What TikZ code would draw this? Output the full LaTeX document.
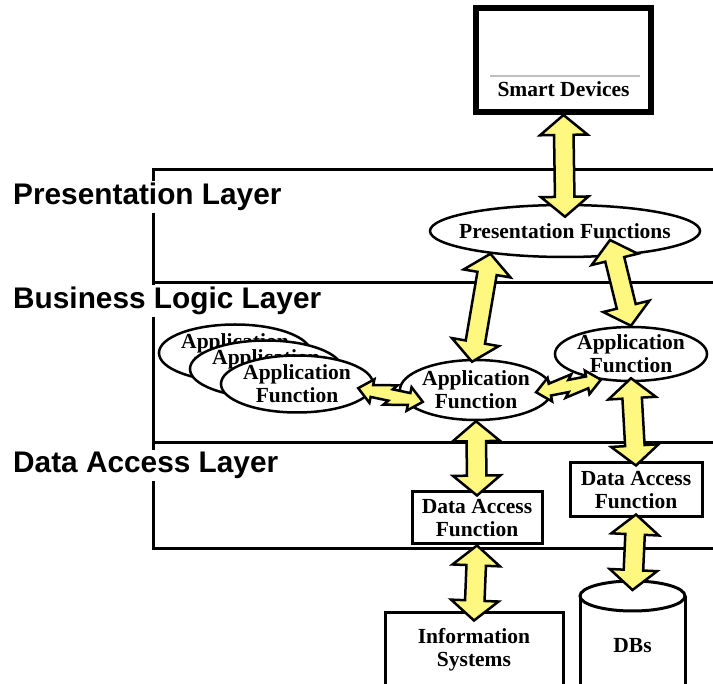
\documentclass[tikz,border=0pt]{standalone}
\usepackage{fontspec}
\setmainfont{Liberation Serif}
\newfontfamily\layerfont{Liberation Sans}
\usetikzlibrary{calc,shapes.geometric,shapes.arrows}

% fat yellow double arrow between two points
\newcommand{\fatarrow}[2]{%
  \path let \p1=($(#2)-(#1)$), \n1={veclen(\x1,\y1)}, \n2={atan2(\y1,\x1)} in
    ($(#1)!0.5!(#2)$) node[fatarrow, minimum height=\n1, rotate=\n2] {};}
% zigzag double arrow
\newcommand{\boltarrow}[2]{%
  \begin{scope}[shift={(#1)}, rotate=#2]
    \draw[bolt] (-33,0) -- (-19,12) -- (-19,6) -- (-1,6) -- (-5,11) -- (19,6) -- (19,12) -- (33,0)
      -- (19,-12) -- (19,-6) -- (1,-6) -- (5,-11) -- (-19,-6) -- (-19,-12) -- cycle;
  \end{scope}}

\begin{document}
\begin{tikzpicture}[x=1pt, y=-1pt,
    fn/.style={font=\fontsize{21.5}{23}\selectfont\bfseries, align=center},
    func/.style={fn, ellipse, draw, fill=white, line width=2.5pt, inner sep=0pt},
    fbox/.style={fn, rectangle, draw, fill=white, line width=3pt, inner sep=0pt},
    layer/.style={font=\layerfont\fontsize{29.8}{32}\selectfont\bfseries, fill=white, anchor=base west, inner sep=2pt},
    fatarrow/.style={double arrow, draw=black, fill=yellow!50, line width=2.5pt,
      inner xsep=0pt, inner ysep=8.5pt, double arrow head extend=14pt, double arrow tip angle=100},
    bolt/.style={draw=black, fill=yellow!50, line width=2.5pt, line join=miter}]
  \useasboundingbox (0,0) rectangle (713,684);

  % layers
  \draw[line width=3pt] (716,170) -- (153,170) -- (153,549) -- (716,549);
  \draw[line width=3pt] (153,283) -- (716,283);
  \draw[line width=3pt] (153,443) -- (716,443);
  \node[layer] (presL) at (11,205) {Presentation Layer};
  \node[layer] (busL) at (11,309) {Business Logic Layer};
  \node[layer] (dataL) at (11,473) {Data Access Layer};

  % smart devices
  \node[draw, line width=6pt, minimum width=175pt, minimum height=104pt] (sd) at (563.5,60) {};
  \draw[gray!50, line width=1.2pt] ([xshift=17pt,yshift=39pt]sd.south west) -- ([xshift=-14pt,yshift=39pt]sd.south east);
  \node[fn, anchor=base] (sdname) at ([yshift=18pt]sd.south) {Smart Devices};

  % functions
  \node[func, inner xsep=-12pt, minimum width=270pt, minimum height=52pt] (pf) at (565,231) {Presentation Functions};
  \node[func, minimum width=148pt, minimum height=57pt] (s1) at (235,353) {Application\\Function};
  \node[func, minimum width=148pt, minimum height=57pt] (s2) at (266,369) {Application\\Function};
  \node[func, minimum width=148pt, minimum height=57pt] (s3) at (297,384) {Application\\Function};
  \node[func, minimum width=148pt, minimum height=60pt] (app2) at (476,390) {Application\\Function};
  \node[func, minimum width=150pt, minimum height=54pt] (app3) at (631,354) {Application\\Function};
  \node[fbox, minimum width=130pt, minimum height=52pt] (da1) at (477,518) {Data Access\\Function};
  \node[fbox, minimum width=132pt, minimum height=54pt] (da2) at (636,490) {Data Access\\Function};
  \node[fbox, minimum width=178pt, minimum height=74pt] (info) at (474,650) {Information\\Systems};

  % database cylinder
  \filldraw[fill=white, line width=3pt] (580,596) -- (580,700) -- (685,700) -- (685,596);
  \filldraw[fill=white, line width=3pt] (632.5,596) ellipse [x radius=52.5, y radius=15];
  \coordinate (dbtop) at (632.5,581);
  \node[fn] (db) at (632.5,646) {DBs};

  % arrows
  \fatarrow{sd.south}{[yshift=-13pt]pf.north}
  \fatarrow{pf.197}{[xshift=-4pt,yshift=-3pt]app2.north}
  \fatarrow{[xshift=45pt,yshift=-9pt]pf.center}{app3.north}
  \fatarrow{app2.south}{[yshift=-5pt]da1.north}
  \fatarrow{[yshift=4pt]app3.south}{[yshift=-4pt]da2.north}
  \fatarrow{da1.south}{[yshift=-9pt]info.north}
  \fatarrow{[yshift=4pt]da2.south}{[yshift=-9pt]dbtop}
  \boltarrow{$(s3.east)!0.5!(app2.west)+(4,8)$}{-12}
  \boltarrow{$(app2.east)!0.5!(app3.west)+(15,14)$}{11}
\end{tikzpicture}
\end{document}
